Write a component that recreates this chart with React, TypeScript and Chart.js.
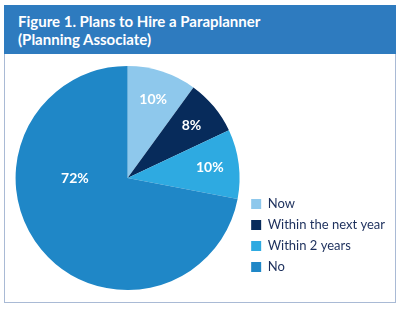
import React, { useEffect, useRef } from "react";
import { Chart, registerables } from "chart.js";

Chart.register(...registerables);

const categories = ["Now", "Within the next year", "Within 2 years", "No"];
const percentages = [10, 8, 10, 72];
const sliceColors = ["#8ec8ec", "#072b5b", "#2eaae1", "#1f87c7"];
const titleLines = ["Figure 1. Plans to Hire a Paraplanner", "(Planning Associate)"];

const labelPlugin = {
  id: "sliceLabels",
  afterDatasetsDraw(chart: any) {
    const ctx = chart.ctx;
    const meta = chart.getDatasetMeta(0);
    const data = chart.data.datasets[0].data as number[];
    const total = data.reduce((a, b) => a + b, 0);
    ctx.save();
    ctx.fillStyle = "#ffffff";
    ctx.font = "bold 14px Lato";
    ctx.textAlign = "center";
    ctx.textBaseline = "middle";
    meta.data.forEach((arc: any, i: number) => {
      const { x, y, startAngle, endAngle, outerRadius } = arc.getProps(
        ["x", "y", "startAngle", "endAngle", "outerRadius"],
        true
      );
      const share = data[i] / total;
      let angle = (startAngle + endAngle) / 2;
      let r = outerRadius * 0.74;
      if (share > 0.5) {
        angle = Math.PI;
        r = outerRadius * 0.47;
      }
      ctx.fillText(`${data[i]}%`, x + Math.cos(angle) * r, y + Math.sin(angle) * r);
    });
    ctx.restore();
  },
};

export default function App() {
  const canvasRef = useRef<HTMLCanvasElement | null>(null);

  useEffect(() => {
    if (!canvasRef.current) return;
    const chart = new Chart(canvasRef.current, {
      type: "pie",
      data: {
        labels: categories,
        datasets: [
          {
            data: percentages,
            backgroundColor: sliceColors,
            borderWidth: 0,
          },
        ],
      },
      options: {
        responsive: false,
        animation: false,
        layout: { padding: { left: 7, top: 12, bottom: 11, right: 0 } },
        plugins: {
          tooltip: { enabled: false },
          legend: {
            position: "right",
            align: "start",
            title: {
              display: true,
              text: "",
              font: { size: 10 },
              padding: { top: 111.5, bottom: 0 },
            },
            labels: {
              boxWidth: 10,
              boxHeight: 10,
              padding: 8,
              color: "#1c2f5c",
              font: { family: "Lato", size: 13 },
            },
          },
        },
      },
      plugins: [labelPlugin],
    });
    return () => chart.destroy();
  }, []);

  return (
    <div style={{ position: "absolute", left: 0, top: 0, width: 400, height: 309, background: "#ffffff" }}>
      <div
        style={{
          position: "absolute",
          left: 4,
          top: 5,
          width: 392,
          height: 298,
          boxSizing: "border-box",
          border: "1px solid #a9bad5",
          background: "#ffffff",
        }}
      />
      <div
        style={{
          position: "absolute",
          left: 4,
          top: 5,
          width: 392,
          height: 49,
          boxSizing: "border-box",
          background: "#2e7bbf",
          color: "#ffffff",
          fontFamily: "Lato",
          fontWeight: 700,
          fontSize: 15,
          lineHeight: "18px",
          paddingLeft: 14,
          paddingTop: 7,
        }}
      >
        {titleLines.map((t) => (
          <div key={t}>{t}</div>
        ))}
      </div>
      <canvas
        ref={canvasRef}
        width={390}
        height={247}
        style={{ position: "absolute", left: 5, top: 54, display: "block" }}
      />
    </div>
  );
}
